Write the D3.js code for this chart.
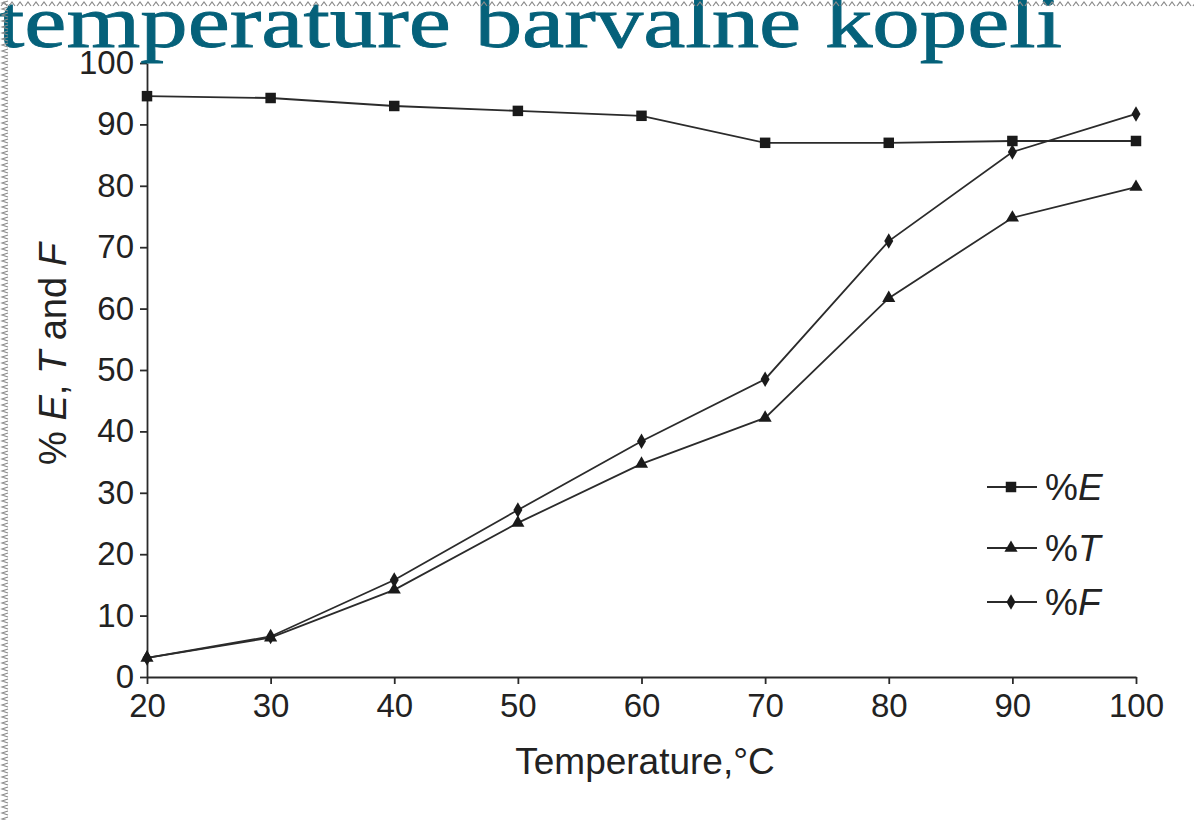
<!DOCTYPE html>
<html>
<head>
<meta charset="utf-8">
<script src="https://cdn.jsdelivr.net/npm/d3@7"></script>
<style>
  body { margin: 0; background: #fff; }
  svg { display: block; }
  .axis path, .axis line { stroke: #2a2a2a; stroke-width: 1.8; }
  .axis text { font-family: "Liberation Sans", Arial, sans-serif; font-size: 33px; fill: #222; }
</style>
</head>
<body>
<svg id="chart"></svg>
<script>
// data
const temps = [20, 30, 40, 50, 60, 70, 80, 90, 100];
const pctE = [94.6, 94.3, 93.0, 92.2, 91.4, 87.0, 87.0, 87.3, 87.3];
const pctT = [3.1, 6.4, 14.2, 25.1, 34.7, 42.2, 61.7, 74.8, 79.8];
const pctF = [3.1, 6.6, 15.8, 27.2, 38.4, 48.5, 71.0, 85.5, 91.7];
const xTicks = [20, 30, 40, 50, 60, 70, 80, 90, 100];
const yTicks = [0, 10, 20, 30, 40, 50, 60, 70, 80, 90, 100];
const seriesNames = ["E", "T", "F"];

const width = 1194, height = 820;
const svg = d3.select("#chart")
  .attr("width", width)
  .attr("height", height);

// scales
const xScale = d3.scaleLinear().domain([20, 100]).range([147, 1136]);
const yScale = d3.scaleLinear().domain([0, 100]).range([677, 63]);

// axes
const xAxis = d3.axisBottom(xScale)
  .tickValues(xTicks)
  .tickSize(7)
  .tickSizeOuter(0)
  .tickPadding(10)
  .tickFormat(d3.format("d"));

svg.append("g")
  .classed("axis", true)
  .attr("transform", `translate(0, ${yScale(0)})`)
  .call(xAxis);

const yAxis = d3.axisLeft(yScale)
  .tickValues(yTicks)
  .tickSize(7)
  .tickSizeOuter(0)
  .tickPadding(6)
  .tickFormat(d3.format("d"));

svg.append("g")
  .classed("axis", true)
  .attr("transform", `translate(${xScale(20)}, 0)`)
  .call(yAxis);

// axis titles
svg.append("text")
  .attr("x", 645)
  .attr("y", 774)
  .attr("text-anchor", "middle")
  .attr("font-family", "Liberation Sans, Arial, sans-serif")
  .attr("font-size", 37)
  .attr("fill", "#222")
  .text("Temperature,°C");

const yLabel = svg.append("text")
  .attr("transform", "translate(66, 354) rotate(-90)")
  .attr("text-anchor", "middle")
  .attr("font-family", "Liberation Sans, Arial, sans-serif")
  .attr("font-size", 38)
  .attr("fill", "#222");
yLabel.append("tspan").text("% ");
yLabel.append("tspan").attr("font-style", "italic").text("E");
yLabel.append("tspan").text(", ");
yLabel.append("tspan").attr("font-style", "italic").text("T");
yLabel.append("tspan").text(" and ");
yLabel.append("tspan").attr("font-style", "italic").text("F");

// series
const series = [
  { name: "E", values: pctE, shape: d3.symbolSquare, size: 110 },
  { name: "T", values: pctT, shape: d3.symbolTriangle, size: 75 },
  { name: "F", values: pctF, shape: d3.symbolDiamond, size: 70 }
];

const line = d3.line()
  .x(d => xScale(d.x))
  .y(d => yScale(d.y));

series.forEach(s => {
  const pts = temps.map((t, i) => ({ x: t, y: s.values[i] }));
  svg.append("path")
    .datum(pts)
    .attr("d", line)
    .attr("fill", "none")
    .attr("stroke", "#2b2b2b")
    .attr("stroke-width", 1.8);

  svg.selectAll(null)
    .data(pts)
    .enter()
    .append("path")
      .attr("d", d3.symbol().type(s.shape).size(s.size))
      .attr("transform", d => `translate(${xScale(d.x)}, ${yScale(d.y)})`)
      .attr("fill", "#1a1a1a");
});

// legend
const legend = svg.append("g").attr("transform", "translate(987, 487)");
series.forEach((s, i) => {
  const row = legend.append("g").attr("transform", `translate(0, ${[0, 61, 115][i]})`);
  row.append("line")
    .attr("x1", 0).attr("x2", 50)
    .attr("stroke", "#2b2b2b").attr("stroke-width", 1.8);
  row.append("path")
    .attr("d", d3.symbol().type(s.shape).size(s.size))
    .attr("transform", "translate(24, 0)")
    .attr("fill", "#1a1a1a");
  const t = row.append("text")
    .attr("x", 58)
    .attr("y", 13)
    .attr("font-family", "Liberation Sans, Arial, sans-serif")
    .attr("font-size", 37)
    .attr("fill", "#222");
  t.append("tspan").text("%");
  t.append("tspan").attr("font-style", "italic").text(seriesNames[i]);
});

// slide title, drawn over the chart
svg.append("text")
  .attr("x", -2)
  .attr("y", 47)
  .attr("font-family", "Liberation Serif, Times New Roman, serif")
  .attr("font-size", 74)
  .attr("fill", "#05617a")
  .attr("stroke", "#05617a")
  .attr("stroke-width", 0.8)
  .attr("textLength", 1064)
  .attr("lengthAdjust", "spacingAndGlyphs")
  .text("temperature barvalne kopeli");

// slide border (zigzag along top and left edge), on top of everything
const defs = svg.append("defs");
const topPat = defs.append("pattern")
  .attr("id", "topZig")
  .attr("width", 8).attr("height", 7)
  .attr("patternUnits", "userSpaceOnUse");
topPat.append("path")
  .attr("d", "M1,6 L4,2 L7,6")
  .attr("fill", "none").attr("stroke", "#8a8a8a").attr("stroke-width", 1.2);
const leftPat = defs.append("pattern")
  .attr("id", "leftZig")
  .attr("width", 9).attr("height", 6)
  .attr("patternUnits", "userSpaceOnUse");
leftPat.append("path")
  .attr("d", "M8,1 L2,3 L8,5")
  .attr("fill", "none").attr("stroke", "#8a8a8a").attr("stroke-width", 1.1);

svg.append("rect").attr("x", 0).attr("y", 0).attr("width", width).attr("height", 7).attr("fill", "url(#topZig)");
svg.append("rect").attr("x", 0).attr("y", 0).attr("width", 9).attr("height", height).attr("fill", "url(#leftZig)");
</script>
</body>
</html>
